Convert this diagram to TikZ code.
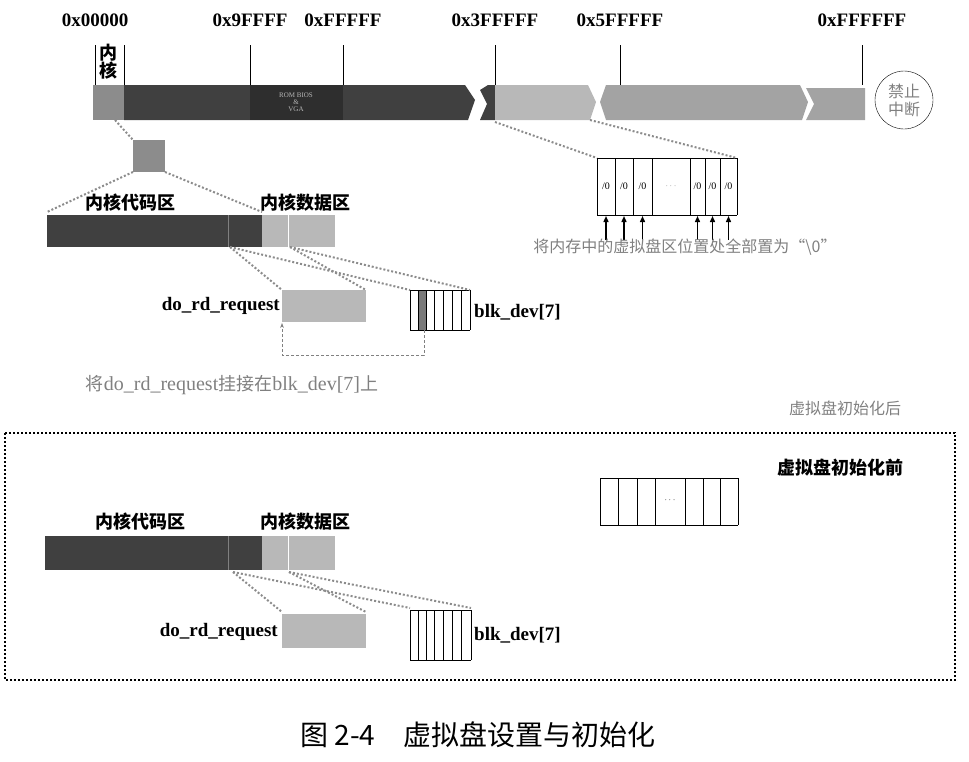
\documentclass[tikz,border=0pt]{standalone}
\usepackage{fontspec}
\setmainfont{Liberation Serif}
\newfontfamily\cjk{Noto Sans CJK SC}
\usetikzlibrary{arrows.meta}
\definecolor{dk}{gray}{0.25}
\definecolor{dk2}{gray}{0.18}
\definecolor{md}{gray}{0.55}
\definecolor{lt}{gray}{0.72}
\definecolor{tx}{gray}{0.5}
\tikzset{
 lab/.style={font=\fontsize{19}{19}\selectfont\bfseries,inner sep=0pt},
 cj/.style={font=\cjk\fontsize{18}{18}\selectfont\bfseries,inner sep=0pt},
 gtxt/.style={font=\cjk\fontsize{16}{16}\selectfont,text=tx,inner sep=0pt},
 dots/.style={dotted,line width=2pt,color=gray!90},
 tick/.style={line width=0.6pt},
}
\begin{document}
\begin{tikzpicture}[x=1pt,y=-1pt]
\useasboundingbox (0,0) rectangle (969,761);
% top bar
\fill[md] (93,85) rectangle (124,120);
\fill[dk] (124,85) -- (465,85) -- (475,100) -- (468,120) -- (124,120) -- cycle;
\fill[dk2] (250,85) rectangle (343,120);
\node[font=\fontsize{7}{7}\selectfont,text=lt,align=center,inner sep=0pt] (rom) at (296,102) {ROM BIOS\\\&\\VGA};
\fill[dk] (488,85) -- (495,85) -- (495,120) -- (480,120) -- (487,104) -- (480,90) -- cycle;
\fill[lt] (495,85) -- (588,85) -- (596,102) -- (590,120) -- (495,120) -- cycle;
\fill[md!80] (606,85) -- (800,85) -- (808,102) -- (802,120) -- (606,120) -- (600,102) -- cycle;
\fill[md!80] (806,88) -- (865,88) -- (865,120) -- (806,120) -- (814,104) -- cycle;
\node[draw,circle,minimum size=58pt,inner sep=0pt,font=\cjk\fontsize{16}{18}\selectfont,text=tx,align=center] (nmi) at (904,100) {禁止\\中断};
% ticks and labels
\node[lab] (a0) at (95,20) {0x00000};
\node[lab] (a1) at (250,20) {0x9FFFF};
\node[lab] (a2) at (343,20) {0xFFFFF};
\node[lab] (a3) at (495,20) {0x3FFFFF};
\node[lab] (a4) at (620,20) {0x5FFFFF};
\node[lab] (a5) at (862,20) {0xFFFFFF};
\node[cj,align=center] (nh) at (108,62) {内\\核};
\draw[tick] (95,45) -- (95,85) (124,45) -- (124,85);
\draw[tick] (250,45) -- (250,85) (343,45) -- (343,85) (495,45) -- (495,85) (620,45) -- (620,85) (862,45) -- (862,85);
% small box
\fill[md] (133,140) rectangle (165,172);
\coordinate (sb1) at (133,140);
\draw[dots] (115,120) -- (sb1);
\draw[dots] (133,172) -- (47,212);
\draw[dots] (165,172) -- (262,212);
% kernel bar top
\fill[dk] (47,215) rectangle (262,247);
\draw[gray,line width=0.4pt] (228,215) -- (228,247);
\fill[lt] (262,215) rectangle (335,247);
\draw[white,line width=0.6pt] (288,215) -- (288,247);
\node[cj] (kc1) at (130,203) {内核代码区};
\node[cj] (kd1) at (305,203) {内核数据区};
% array
\foreach \x in {597,615,633,652,690,705,720,737}{\draw[line width=0.8pt] (\x,158) -- (\x,215);}
\draw[line width=0.8pt] (597,158) -- (737,158) (597,215) -- (737,215);
\foreach \x in {606,624,642.5,697.5,712.5,728.5}{
 \node[font=\fontsize{10}{10}\selectfont,inner sep=0pt] at (\x,186) {/0};
 \draw[-{Triangle[length=6pt,width=5pt]},line width=1.4pt] (\x,240) -- (\x,216);}
\node[font=\fontsize{9}{9}\selectfont,text=tx] at (671,186) {$\cdots$};
\draw[dots] (495,122) -- (597,158);
\draw[dots] (590,120) -- (737,158);
\node[gtxt] (t1) at (685,247) {将内存中的虚拟盘区位置处全部置为“\textbackslash 0”};
% do_rd and blk_dev (after)
\fill[lt] (282,290) rectangle (366,322);
\node[lab,anchor=east] (dr1) at (280,306) {do\_rd\_request};
\fill[dk!70] (418,290) rectangle (426,330);
\foreach \x in {410,418,426,434,443,452,461,470}{\draw[line width=0.8pt] (\x,290) -- (\x,330);}
\draw[line width=0.8pt] (410,290) -- (470,290) (410,330) -- (470,330);
\node[lab,anchor=west] (bd1) at (474,312) {blk\_dev[7]};
\draw[dots] (230,247) -- (282,290);
\draw[dots] (230,247) -- (410,290);
\draw[dots] (290,247) -- (366,290);
\draw[dots] (290,247) -- (470,290);
\draw[densely dashed,gray,line width=1pt,-{Stealth[length=5pt]}] (424,330) -- (424,355) -- (282,355) -- (282,323);
\node[font=\fontsize{20}{20}\selectfont,text=tx,inner sep=0pt] (t2) at (232,385) {{\cjk\fontsize{18}{18}\selectfont 将}do\_rd\_request{\cjk\fontsize{18}{18}\selectfont 挂接在}blk\_dev[7]{\cjk\fontsize{18}{18}\selectfont 上}};
\node[gtxt] (t3) at (845,408) {虚拟盘初始化后};
% bottom frame
\draw[dotted,line width=2pt] (5,433) rectangle (955,680);
\node[cj] (t4) at (840,468) {虚拟盘初始化前};
\foreach \x in {600,618,637,655,685,703,720,738}{\draw[line width=0.8pt] (\x,478) -- (\x,525);}
\draw[line width=0.8pt] (600,478) -- (738,478) (600,525) -- (738,525);
\node[font=\fontsize{9}{9}\selectfont] at (670,500) {$\cdots$};
\fill[dk] (45,536) rectangle (262,570);
\draw[gray,line width=0.4pt] (228,536) -- (228,570);
\fill[lt] (262,536) rectangle (335,570);
\draw[white,line width=0.6pt] (288,536) -- (288,570);
\node[cj] (kc2) at (140,522) {内核代码区};
\node[cj] (kd2) at (305,522) {内核数据区};
\fill[lt] (282,614) rectangle (366,648);
\node[lab,anchor=east] (dr2) at (278,632) {do\_rd\_request};
\foreach \x in {410,418,426,434,443,452,461,471}{\draw[line width=0.8pt] (\x,610) -- (\x,660);}
\draw[line width=0.8pt] (410,610) -- (471,610) (410,660) -- (471,660);
\node[lab,anchor=west] (bd2) at (474,635) {blk\_dev[7]};
\draw[dots] (233,572) -- (282,612);
\draw[dots] (233,572) -- (410,608);
\draw[dots] (289,572) -- (366,612);
\draw[dots] (289,572) -- (471,608);
% caption
\node[font=\cjk\fontsize{28}{28}\selectfont,inner sep=0pt] (cap) at (478,735) {图 2-4\quad 虚拟盘设置与初始化};
\end{tikzpicture}
\end{document}
